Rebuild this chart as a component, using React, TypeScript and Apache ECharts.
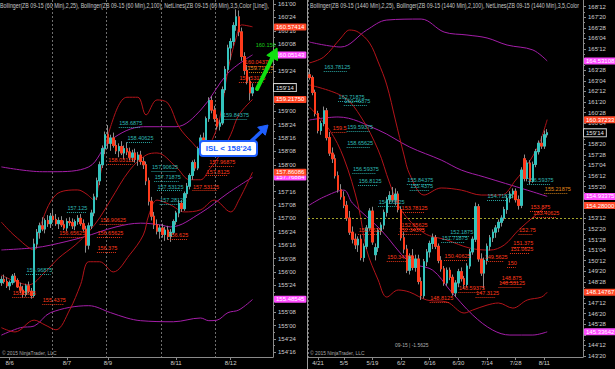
import React, { useEffect, useRef } from "react";
import * as echarts from "echarts";

// ---------- categories / ticks ----------
const leftCategoryCount = 100;
const rightCategoryCount = 96;
const leftDateTicks: [number, string][] = [[3, "8/6"], [24, "8/7"], [39, "8/9"], [64, "8/11"], [84, "8/12"]];
const rightDateTicks: [number, string][] = [[3, "4/21"], [12, "5/5"], [22, "5/19"], [32, "6/2"], [42, "6/16"], [52, "6/30"], [62, "7/14"], [72, "7/28"], [82, "8/11"]];
const leftSessionBreaks = [19, 39, 59, 79];
const rightRolloverBreaks = [31];

// ---------- 60 min candles [open, high, low, close] ----------
const leftOHLC: number[][] = [
  [155.80,155.92,155.74,155.86],[155.86,155.95,155.78,155.82],[155.82,155.90,155.70,155.74],[155.74,155.84,155.66,155.80],
  [155.80,155.96,155.76,155.92],[155.92,155.98,155.80,155.84],[155.84,155.88,155.70,155.72],[155.72,155.80,155.60,155.66],
  [155.66,155.74,155.52,155.58],[155.58,155.78,155.54,155.74],[155.74,155.82,155.60,155.64],[155.64,155.70,155.50,155.56],
  [155.56,156.62,155.52,156.52],[156.52,156.80,156.44,156.74],[156.74,156.92,156.62,156.86],[156.86,157.02,156.76,156.80],
  [156.80,157.00,156.72,156.96],[156.96,157.06,156.84,156.90],[156.90,157.10,156.82,157.04],[157.04,157.16,156.92,156.98],
  [156.98,157.08,156.86,156.90],[156.90,157.02,156.80,156.96],[156.96,157.04,156.84,156.88],[156.88,156.96,156.78,156.82],
  [156.82,157.00,156.76,156.94],[156.94,157.02,156.86,156.92],[156.92,157.00,156.80,156.86],[156.86,156.98,156.78,156.94],
  [156.94,157.06,156.88,157.00],[157.00,157.08,156.86,156.90],[156.90,156.98,156.76,156.80],[156.80,156.86,156.36,156.50],
  [156.50,156.92,156.42,156.86],[156.86,157.16,156.80,157.10],[157.10,157.46,157.04,157.40],[157.40,157.76,157.34,157.70],
  [157.70,158.06,157.62,158.00],[158.00,158.36,157.94,158.30],[158.30,158.62,158.20,158.56],[158.56,158.74,158.30,158.40],
  [158.40,158.56,158.26,158.50],[158.50,158.60,158.32,158.36],[158.36,158.46,158.20,158.26],[158.26,158.40,158.14,158.34],
  [158.34,158.44,158.18,158.22],[158.22,158.36,158.10,158.30],[158.30,158.42,158.18,158.24],[158.24,158.32,158.08,158.14],
  [158.14,158.28,158.06,158.22],[158.22,158.30,158.04,158.10],[158.10,158.24,157.98,158.18],[158.18,158.26,158.00,158.06],
  [158.06,158.14,157.92,158.00],[158.00,158.06,157.62,157.70],[157.70,157.76,157.24,157.32],[157.32,157.40,156.96,157.04],
  [157.04,157.12,156.80,156.88],[156.88,156.98,156.70,156.76],[156.76,156.88,156.62,156.82],[156.82,156.90,156.64,156.70],
  [156.70,156.84,156.58,156.78],[156.78,156.86,156.60,156.66],[156.66,156.80,156.56,156.74],[156.74,156.98,156.70,156.94],
  [156.94,157.14,156.88,157.10],[157.10,157.34,157.02,157.28],[157.28,157.34,157.12,157.18],[157.18,157.50,157.14,157.46],
  [157.46,157.66,157.38,157.60],[157.60,157.84,157.54,157.80],[157.80,158.08,157.72,158.04],[158.04,158.10,157.88,157.94],
  [157.94,158.34,157.90,158.30],[158.30,158.56,158.22,158.50],[158.50,158.60,158.38,158.44],[158.44,158.90,158.40,158.86],
  [158.86,159.26,158.80,159.20],[159.20,159.28,158.96,159.02],[159.02,159.10,158.80,158.86],[158.86,158.94,158.66,158.72],
  [158.72,158.84,158.64,158.78],[158.78,159.46,158.74,159.40],[159.40,159.84,159.34,159.78],[159.78,160.24,159.72,160.18],
  [160.18,160.36,159.96,160.30],[160.30,160.66,160.22,160.60],[160.60,160.90,160.50,160.76],[160.76,160.88,160.40,160.48],
  [160.48,160.56,159.94,160.02],[160.02,160.10,159.68,159.76],[159.76,159.86,159.50,159.56],[159.56,159.64,159.20,159.34],
  [159.34,159.52,159.28,159.4375],
];

// ---------- daily candles [open, high, low, close] ----------
const rightOHLC: number[][] = [
  [163.55,163.95,163.20,163.35],[163.35,163.50,162.10,162.30],[162.30,162.50,160.60,160.80],[160.80,161.00,159.40,159.60],
  [159.60,160.30,159.30,160.10],[160.10,161.30,159.90,161.00],[161.00,161.20,158.90,159.10],[159.10,159.50,157.80,158.00],
  [158.00,158.40,157.30,157.60],[157.60,157.90,156.20,156.40],[156.40,156.70,155.20,155.40],[155.40,155.80,154.70,154.90],
  [154.90,155.30,154.10,154.30],[154.30,154.60,153.20,153.40],[153.40,153.90,152.20,152.40],[152.40,152.80,151.60,151.90],
  [151.90,152.30,151.20,151.50],[151.50,152.10,151.00,151.90],[151.90,152.20,150.40,150.60],[150.60,151.60,150.30,151.40],
  [151.40,152.90,151.20,152.70],[152.70,154.10,152.50,153.90],[153.90,154.20,151.50,151.70],[150.80,151.60,150.40,151.30],
  [151.30,152.70,151.00,152.50],[152.50,153.10,152.20,152.90],[152.90,154.00,152.60,153.80],[153.80,154.90,153.50,154.70],
  [154.70,155.30,154.40,155.00],[155.00,155.60,154.50,154.70],[154.70,155.50,154.30,155.10],[155.10,155.30,153.80,154.00],
  [154.00,154.20,151.80,152.00],[152.00,152.40,150.90,151.20],[151.20,151.50,149.50,149.70],[149.70,150.90,149.40,150.70],
  [150.70,151.20,149.70,149.90],[149.90,150.80,149.60,150.50],[150.50,150.80,148.70,148.90],[148.90,149.20,147.60,147.90],
  [147.90,150.50,147.70,150.30],[150.30,151.20,150.00,151.00],[151.00,151.80,150.60,151.60],[151.60,152.30,151.20,152.00],
  [152.00,152.20,151.20,151.40],[151.40,151.60,150.20,150.40],[150.40,150.70,149.60,149.80],[149.80,150.00,148.60,148.80],
  [148.80,149.90,148.60,149.70],[149.70,149.90,149.00,149.20],[149.20,149.40,147.90,148.10],[148.10,149.00,147.80,148.80],
  [148.80,149.80,148.50,149.60],[149.60,149.90,148.90,149.10],[149.10,149.30,148.40,148.70],[148.70,150.20,148.50,150.00],
  [150.00,151.20,149.80,151.00],[151.00,152.10,150.80,151.90],[151.90,154.50,151.70,154.20],[154.20,154.40,150.30,150.50],
  [150.50,150.90,149.30,149.50],[149.50,150.60,148.40,150.40],[150.40,151.60,150.10,151.40],[151.40,152.20,151.10,152.00],
  [152.00,152.60,151.70,152.40],[152.40,152.90,152.00,152.70],[152.70,153.30,152.40,153.10],[153.10,153.60,152.80,153.40],
  [153.40,154.20,153.20,154.00],[154.00,155.00,153.70,154.80],[154.80,155.30,154.50,155.10],[155.10,155.50,154.80,155.30],
  [155.30,155.50,154.50,154.70],[154.70,155.00,154.00,154.30],[154.30,157.00,154.10,156.80],[157.60,157.90,156.00,156.20],
  [156.20,157.50,156.00,157.30],[157.30,157.50,155.80,156.00],[156.00,157.40,155.90,157.20],[157.20,158.30,157.00,158.10],
  [158.10,158.90,157.90,158.70],[158.70,159.20,158.30,158.50],[158.50,159.60,158.30,159.30],[159.30,159.70,159.10,159.4375],
];
const lastPrice = 159.4375;
const dailyRefLevel = 153.4;

// ---------- Bollinger bands [bar index, value] ----------
const leftUpper25 = [[0,156.93],[5,156.67],[12,156.41],[14,156.82],[20,157.44],[28,157.53],[31,157.46],[34,157.34],[36,157.75],[40,158.71],[46,159.26],[50,159.26],[53,158.93],[57,159.21],[61,159.15],[65,158.71],[70,158.41],[73,158.28],[76,158.35],[80,158.87],[83,159.77],[86,160.37],[88,160.61],[92,160.57414]];
const leftMiddle25 = [[0,155.94],[10,155.76],[16,156.0],[21,156.26],[27,156.5],[32,156.75],[36,157.01],[40,157.34],[47,157.9],[53,158.18],[57,158.22],[64,157.96],[69,157.72],[73,157.72],[76,157.9],[80,158.18],[84,158.56],[87,158.93],[92,159.2175]];
const leftLower25 = [[0,154.96],[5,154.88],[12,155.10],[16,155.01],[20,154.92],[25,155.29],[29,155.76],[32,156.19],[36,156.19],[41,156.0],[47,156.32],[52,156.69],[54,157.06],[57,157.34],[62,157.25],[67,157.12],[73,157.16],[78,157.34],[84,157.12],[87,157.34],[92,157.86086]];
const leftUpper100 = [[0,157.96],[15,157.87],[19,157.87],[32,157.96],[40,158.46],[52,158.71],[64,158.71],[73,159.02],[83,159.71],[92,160.05143]];
const leftMiddle100 = [[0,156.41],[12,156.45],[18,156.50],[30,156.65],[42,156.84],[51,156.91],[58,156.88],[62,156.84],[73,157.10],[83,157.47],[92,157.76884]];
const leftLower100 = [[0,154.82],[7,154.96],[12,154.99],[18,155.24],[32,155.37],[40,155.24],[46,155.14],[51,155.09],[63,155.07],[73,155.14],[76,155.09],[79,155.10],[83,155.24],[87,155.29],[92,155.48545]];

const rightUpper25 = [[0,164.39],[5,164.81],[11,166.16],[14,166.72],[17,166.58],[21,165.80],[24,164.46],[27,162.83],[30,160.35],[33,157.87],[35,156.5],[40,155.03],[46,155.53],[53,155.38],[60,155.03],[67,155.03],[72,156.09],[76,157.16],[80,158.57],[83,160.37233]];
const rightMiddle25 = [[0,162.83],[12,161.98],[18,160.56],[24,158.22],[28,155.88],[32,153.97],[40,152.34],[48,151.84],[56,151.27],[63,151.13],[68,151.49],[73,152.55],[79,153.61],[83,154.28]];
const rightLower25 = [[0,161.27],[7,159.64],[12,157.65],[17,154.32],[20,151.13],[24,149.01],[27,147.80],[31,148.30],[35,148.15],[41,147.59],[48,147.45],[54,146.67],[57,146.88],[62,147.23],[66,147.38],[71,147.02],[76,147.59],[81,147.80],[83,148.14767]];
const rightUpper100 = [[0,165.87],[11,165.52],[20,166.72],[27,167.43],[39,167.50],[47,166.58],[55,166.37],[62,166.16],[69,165.66],[78,165.31],[83,164.53108]];
const rightMiddle100 = [[0,160.35],[10,160.56],[24,159.64],[35,158.43],[46,157.51],[53,156.80],[61,156.31],[76,155.38],[83,154.93375]];
const rightLower100 = [[0,154.32],[5,154.89],[12,155.38],[15,154.46],[25,152.55],[35,150.28],[43,149.71],[49,148.30],[57,146.53],[64,145.46],[70,145.11],[78,145.11],[83,145.33642]];

// ---------- NetLines labels [bar index, level, text] ----------
const leftNetCyan: [number, number, string][] = [[43,158.78,"158.6875"],[46,158.50,"158.40625"],[55,157.96,"157.90625"],[56,157.77,"157.71875"],[57,157.59,"157.53125"],[24,157.19,"157.125"],[58,157.34,"157.28125"],[81,158.93,"159.84375"],[9,156.04,"155.96875"]];
const leftNetRed: [number, number, string][] = [[39,158.09,"158.03125"],[21,156.73,"156.65625"],[36,156.97,"156.90625"],[35,156.73,"156.65625"],[35,156.45,"156.375"],[4,155.61,"155.5625"],[15,155.48,"155.4375"],[76,158.05,"157.96875"],[75,157.87,"157.8125"],[70,157.59,"157.53125"],[61,156.69,"156.625"],[89,159.92,"160.04375"],[87,159.62,"159.53125"]];
const leftNetOrange: [number, number, string][] = [[90,159.81,"159.71875"]];
const leftNetGreen: [number, number, string][] = [[93,160.24,"160.156"]];
const rightNetCyan: [number, number, string][] = [[5,164.10,"163.78125"],[10,161.98,"162.71875"],[12,161.69,"160.46875"],[13,159.85,"159.59375"],[13,158.71,"158.65625"],[15,156.87,"156.59375"],[17,156.02,"156.8125"],[34,156.09,"155.84375"],[35,155.66,"155.4375"],[24,154.53,"154.53125"],[49,152.42,"152.1875"],[46,151.98,"151.71875"],[62,154.95,"154.71875"],[76,156.09,"156.59375"]];
const rightNetRed: [number, number, string][] = [[8,159.78,"159.5"],[32,154.11,"153.78125"],[32,152.9,"152.65625"],[31,152.55,"152.34375"],[17,152.55,"152.5625"],[27,150.64,"150.34375"],[42,147.73,"148.8125"],[47,150.71,"150.40625"],[61,150.64,"149.5625"],[69,150.19,"150"],[67,149.15,"148.875"],[66,148.80,"148.53125"],[58,148.08,"147.3125"],[52,148.43,"148.59375"],[71,151.63,"151.375"],[70,151.2,"151.0625"],[73,152.55,"152.75"],[77,154.18,"153.875"],[78,153.76,"153.40625"]];
const rightNetOrange: [number, number, string][] = [[82,155.44,"155.21875"]];

const leftHeader = "Bollinger(ZB 09-15 (60 Min),2,25), Bollinger(ZB 09-15 (60 Min),2,100), NetLines(ZB 09-15 (60 Min),3,5,Color [Line]),";
const rightHeader = "Bollinger(ZB 09-15 (1440 Min),2,25), Bollinger(ZB 09-15 (1440 Min),2,100), NetLines(ZB 09-15 (1440 Min),3,5,Color";
const copyright = "© 2015 NinjaTrader, LLC";
const rolloverText = "09-15 | -1.5625";
const islText = "ISL < 158'24";

// ---------- styles ----------
const FONT = '"Liberation Sans", Arial, sans-serif';
const UP = "#33c4be";
const DOWN = "#ff3b1c";
const WICK = "#8c8c8c";
const BB25 = "#b3141a";
const BB100 = "#a41ea8";
const AXIS = "#8a8a8a";
const LABEL = "#cfcfcf";
const RED_TAG = "#ff4626";
const MAG_TAG = "#ff4cff";
const NET_CYAN = "#2fb8b4";
const NET_RED = "#ff3a1a";
const NET_ORANGE = "#e08a1a";
const NET_GREEN = "#19d119";

function to32nds(v: number): string {
  const whole = Math.floor(v + 1e-9);
  const t = Math.round((v - whole) * 32);
  return `${whole}'${String(t).padStart(2, "0")}`;
}

const lastOf = (d: number[][]) => d[d.length - 1][1];
const leftTagLevels = [leftUpper25, leftMiddle25, leftLower25, leftUpper100, leftMiddle100, leftLower100].map(lastOf).concat([lastPrice]);
const rightTagLevels = [rightUpper25, rightMiddle25, rightLower25, rightUpper100, rightMiddle100, rightLower100].map(lastOf).concat([lastPrice]);

function candleSeries(ohlc: number[][], xi: number, yi: number, extra: any[]) {
  const wick = {
    type: "candlestick", xAxisIndex: xi, yAxisIndex: yi, silent: true, barWidth: 2, z: 4,
    data: ohlc.map(([o, h, l, c]) => [o, c, l, h]),
    itemStyle: { color: WICK, color0: WICK, borderColor: WICK, borderColor0: WICK, borderWidth: 1 },
    ...(extra[0] || {}),
  };
  const body = {
    type: "candlestick", xAxisIndex: xi, yAxisIndex: yi, silent: true, barWidth: 2, z: 5,
    data: ohlc.map(([o, h, l, c]) => [o, c, Math.min(o, c), Math.max(o, c)]),
    itemStyle: { color: UP, color0: DOWN, borderColor: UP, borderColor0: DOWN, borderWidth: 1 },
    ...(extra[1] || {}),
  };
  return [wick, body];
}

function bandSeries(data: number[][], color: string, tag: string, xi: number, yi: number) {
  const last = lastOf(data);
  return {
    type: "line", xAxisIndex: xi, yAxisIndex: yi, data, smooth: 0.35, symbol: "none", silent: true, z: 3,
    lineStyle: { color, width: 1 },
    markLine: {
      silent: true, symbol: ["none", "none"], z: 20,
      lineStyle: { color: "rgba(0,0,0,0)", width: 0 },
      label: {
        show: true, position: "end", distance: 1, formatter: last.toFixed(5), backgroundColor: tag,
        color: "#ffffff", fontSize: 6, fontFamily: FONT, padding: [1, 2, 0, 2], borderRadius: 1, opacity: 1,
      },
      data: [{ yAxis: last }],
    },
  };
}

// text sits just above a dotted underline; underlineDrop = 4px expressed in price units of the panel
function netSeries(data: [number, number, string][], color: string, xi: number, yi: number, underlineDrop: number, catPerChar: number) {
  return {
    type: "scatter", xAxisIndex: xi, yAxisIndex: yi, silent: true, symbol: "circle", symbolSize: 1, z: 6,
    itemStyle: { color: "rgba(0,0,0,0)" },
    data: data.map(([i, v, t]) => ({ value: [i, v], name: t })),
    label: { show: true, position: "right", distance: 0, formatter: (p: any) => p.name, color, fontSize: 5.5, fontFamily: FONT, opacity: 1 },
    markLine: {
      silent: true, symbol: ["none", "none"], label: { show: false },
      lineStyle: { color, type: [1, 1], width: 1, opacity: 0.9 },
      data: data.map(([i, v, t]) => [{ coord: [i, v - underlineDrop] }, { coord: [i + t.length * catPerChar, v - underlineDrop] }]),
    },
  };
}

function priceTag(value: number) {
  return {
    silent: true, symbol: ["none", "none"], z: 20,
    lineStyle: { color: "rgba(0,0,0,0)", width: 0 },
    label: {
      show: true, position: "end", distance: 1, formatter: to32nds(value), backgroundColor: "#000000",
      borderColor: "#d0d0d0", borderWidth: 1, color: "#e8e8e8", fontSize: 6, fontFamily: FONT, padding: [1, 2, 0, 2], opacity: 1,
    },
    data: [{ yAxis: value }],
  };
}

function frameX(count: number, ticks: [number, string][], breaks: number[], grid: number) {
  const map = new Map(ticks);
  const br = new Set(breaks);
  return {
    type: "category", gridIndex: grid, data: Array.from({ length: count }, (_, i) => String(i)),
    axisLine: { show: true, lineStyle: { color: AXIS, width: 1 } },
    axisTick: { show: true, alignWithLabel: true, length: 3, interval: (i: number) => map.has(i), lineStyle: { color: AXIS } },
    axisLabel: { interval: 0, formatter: (_v: string, i: number) => map.get(i) ?? "", fontSize: 6, color: LABEL, fontFamily: FONT, margin: 3 },
    splitLine: { show: true, interval: (i: number) => br.has(i), lineStyle: { color: "#6e6e6e", type: [2, 2], width: 1 } },
  };
}

// tick labels that sit under a value tag are covered in the reference, so they are left blank here
function dataY(grid: number, min: number, max: number, interval: number, tags: number[], pxPerUnit: number) {
  return {
    type: "value", gridIndex: grid, position: "right", min, max, interval,
    axisLine: { show: false },
    axisTick: { show: true, length: 3, lineStyle: { color: AXIS } },
    minorTick: { show: true, splitNumber: 2, length: 2, lineStyle: { color: AXIS } },
    axisLabel: {
      formatter: (v: number) => (tags.some((t) => Math.abs(t - v) * pxPerUnit < 3.4) ? "" : to32nds(v)),
      fontSize: 6, color: LABEL, fontFamily: FONT, margin: 5, showMinLabel: true, showMaxLabel: true,
    },
    splitLine: { show: false },
  };
}

function frameY(grid: number) {
  return {
    type: "value", gridIndex: grid, position: "right", min: 0, max: 1,
    axisLine: { show: true, lineStyle: { color: AXIS, width: 1 } },
    axisTick: { show: false }, axisLabel: { show: false }, splitLine: { show: false },
  };
}

function arrow(tail: number[], shaftEnd: number[], head: number[][], color: string, width: number) {
  return [
    { type: "polyline", z: 50, shape: { points: [tail, shaftEnd] }, style: { stroke: color, lineWidth: width, lineCap: "round", fill: null } },
    { type: "polygon", z: 50, shape: { points: head }, style: { fill: color, stroke: color, lineWidth: 1 } },
  ];
}

function buildOption(): any {
  const leftCandles = candleSeries(leftOHLC, 0, 0, [{}, { markLine: priceTag(lastPrice) }]);
  const rightCandles = candleSeries(rightOHLC, 2, 2, [
    {
      markLine: {
        silent: true, symbol: ["none", "none"], label: { show: false },
        lineStyle: { color: "#a3a32a", type: [2, 2], width: 1 }, data: [{ yAxis: dailyRefLevel }],
      },
    },
    { markLine: priceTag(lastPrice) },
  ]);
  const hidX = (grid: number, count: number) => ({
    type: "category", gridIndex: grid, show: false, data: Array.from({ length: count }, (_, i) => String(i)),
  });
  const leftPx = 348.3 / 6.5;
  const rightPx = 349.3 / 24.75;
  return {
    animation: false,
    backgroundColor: "#000000",
    textStyle: { fontFamily: FONT },
    grid: [
      { left: 0, top: 4, width: 273, height: 348.3, outerBoundsMode: "none", containLabel: false },
      { left: 0, top: 0, width: 273, height: 357, outerBoundsMode: "none", containLabel: false },
      { left: 308, top: 6.7, width: 275, height: 349.3, outerBoundsMode: "none", containLabel: false },
      { left: 308, top: 0, width: 275, height: 357, outerBoundsMode: "none", containLabel: false },
    ],
    xAxis: [
      hidX(0, leftCategoryCount),
      frameX(leftCategoryCount, leftDateTicks, leftSessionBreaks, 1),
      hidX(2, rightCategoryCount),
      frameX(rightCategoryCount, rightDateTicks, rightRolloverBreaks, 3),
    ],
    yAxis: [
      dataY(0, 154.5, 161, 0.25, leftTagLevels, leftPx),
      frameY(1),
      dataY(2, 143.625, 168.375, 0.75, rightTagLevels, rightPx),
      frameY(3),
    ],
    series: [
      bandSeries(leftUpper100, BB100, MAG_TAG, 0, 0),
      bandSeries(leftMiddle100, BB100, MAG_TAG, 0, 0),
      bandSeries(leftLower100, BB100, MAG_TAG, 0, 0),
      bandSeries(leftUpper25, BB25, RED_TAG, 0, 0),
      bandSeries(leftMiddle25, BB25, RED_TAG, 0, 0),
      bandSeries(leftLower25, BB25, RED_TAG, 0, 0),
      ...leftCandles,
      netSeries(leftNetCyan, NET_CYAN, 0, 0, 4 / leftPx, 0.95),
      netSeries(leftNetRed, NET_RED, 0, 0, 4 / leftPx, 0.95),
      netSeries(leftNetOrange, NET_ORANGE, 0, 0, 4 / leftPx, 0.95),
      netSeries(leftNetGreen, NET_GREEN, 0, 0, 4 / leftPx, 0.95),
      bandSeries(rightUpper100, BB100, MAG_TAG, 2, 2),
      bandSeries(rightMiddle100, BB100, MAG_TAG, 2, 2),
      bandSeries(rightLower100, BB100, MAG_TAG, 2, 2),
      bandSeries(rightUpper25, BB25, RED_TAG, 2, 2),
      bandSeries(rightMiddle25, BB25, RED_TAG, 2, 2),
      bandSeries(rightLower25, BB25, RED_TAG, 2, 2),
      ...rightCandles,
      netSeries(rightNetCyan, NET_CYAN, 2, 2, 4 / rightPx, 0.9),
      netSeries(rightNetRed, NET_RED, 2, 2, 4 / rightPx, 0.9),
      netSeries(rightNetOrange, NET_ORANGE, 2, 2, 4 / rightPx, 0.9),
    ],
    graphic: [
      { type: "line", z: 40, shape: { x1: 307.5, y1: 0, x2: 307.5, y2: 369 }, style: { stroke: "#9a9a9a", lineWidth: 1 } },
      { type: "text", z: 60, x: 0, y: 1.5, scaleX: 0.75, style: { text: leftHeader, fill: "#c8c8c8", font: `7px ${FONT}`, textVerticalAlign: "top", verticalAlign: "top" } },
      { type: "text", z: 60, x: 310, y: 1.5, scaleX: 0.75, style: { text: rightHeader, fill: "#c8c8c8", font: `7px ${FONT}`, textVerticalAlign: "top", verticalAlign: "top" } },
      { type: "text", z: 60, x: 2, y: 350, scaleX: 0.9, style: { text: copyright, fill: "#a8a8a8", font: `5.5px ${FONT}`, textVerticalAlign: "top", verticalAlign: "top" } },
      { type: "text", z: 60, x: 310, y: 350, scaleX: 0.9, style: { text: copyright, fill: "#a8a8a8", font: `5.5px ${FONT}`, textVerticalAlign: "top", verticalAlign: "top" } },
      { type: "text", z: 60, x: 395, y: 342, scaleX: 0.9, style: { text: rolloverText, fill: "#b0b0b0", font: `5.5px ${FONT}`, textVerticalAlign: "top", verticalAlign: "top" } },
      ...arrow([257, 89], [272.5, 57.5], [[277, 48], [277.6, 60.5], [266.8, 55.3]], "#10e010", 4),
      ...arrow([246, 146], [262, 131], [[268, 125], [265.3, 135.2], [257.7, 127.2]], "#2060ff", 3.5),
      { type: "rect", z: 55, shape: { x: 200, y: 141, width: 57, height: 15, r: 3 }, style: { fill: "#ffffff", stroke: "#2060ff", lineWidth: 2 } },
      { type: "text", z: 56, x: 228.5, y: 148.5, style: { text: islText, fill: "#2060ff", font: `bold 8px ${FONT}`, textAlign: "center", align: "center", textVerticalAlign: "middle", verticalAlign: "middle" } },
    ],
  };
}

export default function App() {
  const ref = useRef<HTMLDivElement>(null);
  useEffect(() => {
    document.body.style.margin = "0";
    document.body.style.background = "#000";
    const chart = echarts.init(ref.current as HTMLDivElement, null, { renderer: "svg" });
    chart.setOption(buildOption());
    return () => chart.dispose();
  }, []);
  return <div ref={ref} style={{ width: 615, height: 369 }} />;
}
